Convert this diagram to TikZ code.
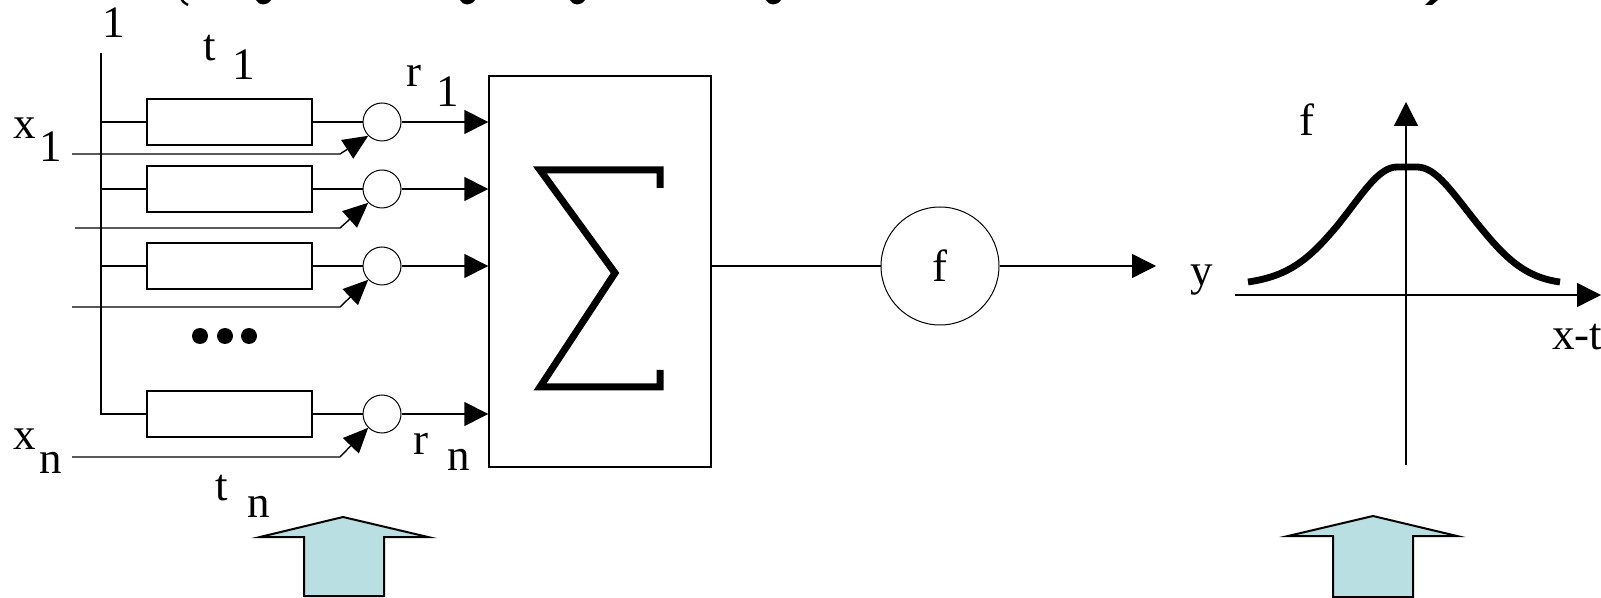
\documentclass[tikz,border=0pt]{standalone}
\usepackage{fontspec}
\setmainfont{Liberation Serif}
\usetikzlibrary{arrows.meta,calc}
\definecolor{arrowfill}{HTML}{B9DFE3}
\tikzset{
  wire/.style={line width=0.7pt},
  delaybox/.style={draw, line width=0.7pt, minimum width=82.5pt, minimum height=23pt, inner sep=0pt},
  mult/.style={draw, circle, line width=0.5pt, minimum size=19pt, inner sep=0pt},
  lbl/.style={inner sep=0pt, font=\fontsize{22.5}{26}\selectfont},
  tip/.style={-{Triangle[length=12pt,width=12pt]}},
  smalltip/.style={-{Triangle[length=12.5pt,width=11pt]}},
  bigarrow/.style={draw=black, line width=1pt, fill=arrowfill, line join=miter},
}
\begin{document}
\begin{tikzpicture}[x=0.5pt,y=-0.5pt]
\fill[white] (0,0) rectangle (1601,598);
\useasboundingbox (0,0) rectangle (1601,598);

% lower ends of the heading glyphs along the top edge
\draw[line width=1.2pt] (181,-2) .. controls (183,2) .. (188,5);
\fill (256,0) .. controls (259,6) and (267,6) .. (271,0) -- cycle;
\fill (460,0) .. controls (463,6) and (471,6) .. (475,0) -- cycle;
\fill (570,0) .. controls (573,6) and (581,6) .. (585,0) -- cycle;
\fill (766,0) .. controls (769,6) and (777,6) .. (781,0) -- cycle;
\fill (1425,5) -- (1432,5) -- (1438,0) -- (1430,0) -- cycle;

% bias input and its bus
\node[lbl] (one) at (114,23) {1};
\coordinate (bustop) at (101,53);

% delay elements
\node[delaybox] (d1) at (229.5,122) {};
\node[delaybox] (d2) at (229.5,189) {};
\node[delaybox] (d3) at (229.5,266) {};
\node[delaybox] (dn) at (229.5,414) {};

% multipliers
\node[mult] (c1) at (382,122) {};
\node[mult] (c2) at (382,189) {};
\node[mult] (c3) at (382,266) {};
\node[mult] (cn) at (382,414) {};

% summation block
\node[draw, line width=0.7pt, minimum width=111pt, minimum height=195.5pt, inner sep=0pt] (sum) at (600,271.5) {};
\draw[line width=3.5pt, line join=miter, line cap=butt]
  (660,188) -- (660,170) -- (540,170) -- (615,273) -- (540,387) -- (660,387) -- (660,370);

% activation
\node[draw, circle, line width=0.5pt, minimum size=59pt, lbl] (fn) at (940,266) {f};
\coordinate (fout) at (1156,266);

% bus wiring
\draw[wire] (bustop) |- (dn.west);
\draw[wire] (bustop |- d1.west) -- (d1.west);
\draw[wire] (bustop |- d2.west) -- (d2.west);
\draw[wire] (bustop |- d3.west) -- (d3.west);

% delay -> multiplier
\draw[wire] (d1.east) -- (c1.west);
\draw[wire] (d2.east) -- (c2.west);
\draw[wire] (d3.east) -- (c3.west);
\draw[wire] (dn.east) -- (cn.west);

% multiplier -> sum
\draw[wire, tip] (c1.east) -- (c1.east -| sum.west);
\draw[wire, tip] (c2.east) -- (c2.east -| sum.west);
\draw[wire, tip] (c3.east) -- (c3.east -| sum.west);
\draw[wire, tip] (cn.east) -- (cn.east -| sum.west);

% signal inputs
\coordinate (in1) at (72,154);  \coordinate (k1) at (340,154);
\coordinate (in2) at (75,228);  \coordinate (k2) at (340,228);
\coordinate (in3) at (72,307);  \coordinate (k3) at (340,307);
\coordinate (inn) at (72,457);  \coordinate (kn) at (340,457);
\draw[wire, smalltip] (in1) -- (k1) -- (c1.south west);
\draw[wire, smalltip] (in2) -- (k2) -- (c2.south west);
\draw[wire, smalltip] (in3) -- (k3) -- (c3.south west);
\draw[wire, smalltip] (inn) -- (kn) -- (cn.south west);

% ellipsis between rows
\fill (200,336) circle (4pt);
\fill (225,336) circle (4pt);
\fill (249,336) circle (4pt);

% sum -> f -> output
\draw[wire] (fn.west -| sum.east) -- (fn.west);
\draw[wire, tip] (fn.east) -- (fout);

% labels
\node[lbl] (x1a) at (25,128) {x};
\node[lbl] (x1b) at (51,147) {1};
\node[lbl] (xna) at (25,439) {x};
\node[lbl] (xnb) at (51,463) {n};
\node[lbl] (t1a) at (210,48) {t};
\node[lbl] (t1b) at (244,65) {1};
\node[lbl] (r1a) at (414,76) {r};
\node[lbl] (r1b) at (448,92) {1};
\node[lbl] (rna) at (421,444) {r};
\node[lbl] (rnb) at (459,460) {n};
\node[lbl] (tna) at (222,488) {t};
\node[lbl] (tnb) at (259,507) {n};

% graph of the activation function
\coordinate (xl) at (1235,295);
\coordinate (xr) at (1601,295);
\coordinate (yb) at (1406,465);
\coordinate (yt) at (1406,102);
\draw[wire, tip] (xl) -- (xr);
\draw[wire, tip] (yb) -- (yt);
\draw[line width=3.4pt]
  (1248,282) .. controls (1290,276) and (1310,258) .. (1337,226)
  .. controls (1362,195) and (1378,167) .. (1397,167) -- (1417,167)
  .. controls (1436,167) and (1452,192) .. (1476,222)
  .. controls (1502,254) and (1522,277) .. (1560,282);
\node[lbl] (gf) at (1307,120) {f};
\node[lbl] (gy) at (1202,280) {y};
\node[lbl, anchor=west] (gx) at (1552,337) {x-t};

% highlight arrows underneath
\draw[bigarrow] (343,517) -- (428,537) -- (384,537) -- (384,596) -- (304,596) -- (304,537) -- (260,537) -- cycle;
\draw[bigarrow] (1373,516) -- (1457,536) -- (1413,536) -- (1413,597) -- (1333,597) -- (1333,536) -- (1288,536) -- cycle;
\end{tikzpicture}
\end{document}
